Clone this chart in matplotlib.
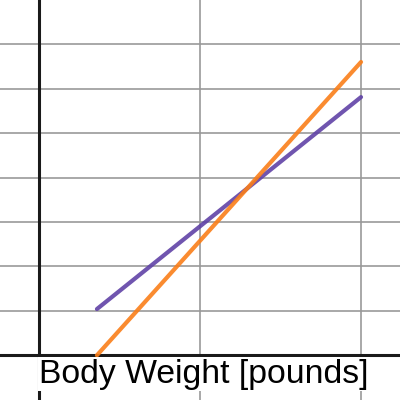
import matplotlib
matplotlib.use("Agg")
import matplotlib.pyplot as plt

# two straight lines (grid units)
purple_x = [0.36, 2.0]
purple_y = [1.04, 5.81]
orange_x = [0.36, 2.0]
orange_y = [0.0, 6.6]

x_grid = [1, 2]
y_grid = [1, 2, 3, 4, 5, 6, 7]
label = "Body Weight [pounds]"

fig = plt.figure(figsize=(4, 4), dpi=100)
ax = fig.add_axes([0, 0, 1, 1])
ax.set_xlim(-0.242, 2.242)
ax.set_ylim(-1.007, 7.995)
ax.axis("off")

for gx in x_grid:
    ax.axvline(gx, color="#999999", lw=1.2, zorder=1)
for gy in y_grid:
    ax.axhline(gy, color="#999999", lw=1.2, zorder=1)
ax.axhline(0, color="#1a1a1a", lw=2.2, zorder=2)
ax.axvline(0, color="#1a1a1a", lw=2.2, zorder=2)

ax.plot(purple_x, purple_y, color="#6042a6", lw=3, alpha=0.9,
        solid_capstyle="round", zorder=3)
ax.plot(orange_x, orange_y, color="#fa7e19", lw=3, alpha=0.9,
        solid_capstyle="round", zorder=3)

ax.text(0.0, -0.08, label, family="Liberation Sans", fontsize=24.3,
        ha="left", va="top", zorder=4,
        bbox=dict(facecolor="white", edgecolor="none", pad=1))

fig.savefig("out.png", dpi=100)
